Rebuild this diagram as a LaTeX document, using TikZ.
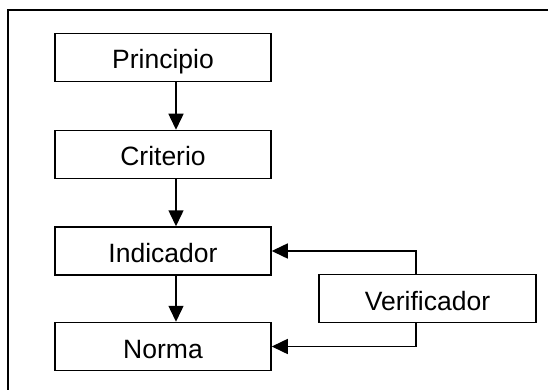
\documentclass[tikz,border=0pt]{standalone}
\usepackage{fontspec}
\setmainfont{Liberation Sans}
\usetikzlibrary{arrows.meta}
\begin{document}
\begin{tikzpicture}[x=1pt,y=-1pt,
  box/.style={draw=black,line width=1.5pt,minimum width=216pt,minimum height=48pt,inner sep=0pt,
    text height=23pt,text depth=0pt,font=\fontsize{26.5}{30}\selectfont},
  arr/.style={line width=1.5pt,-{Triangle[length=16pt,width=15pt]}}]
\clip (0,0) rectangle (548,390);
\fill[white] (0,0) rectangle (548,390);
\draw[line width=2pt] (7.5,400) |- (560,10);
\node[box] (p) at (163,57.5) {Principio};
\node[box] (c) at (163,154.5) {Criterio};
\node[box] (i) at (163,251) {Indicador};
\node[box] (n) at (163,346.5) {Norma};
\node[box,minimum width=217pt] (v) at (427.5,298.5) {Verificador};
\draw[arr] ([xshift=13pt]p.south) -- ([xshift=13pt]c.north);
\draw[arr] ([xshift=13pt]c.south) -- ([xshift=13pt]i.north);
\draw[arr] ([xshift=13pt]i.south) -- ([xshift=13pt]n.north);
\draw[arr] ([xshift=-11.5pt]v.north) |- (i.east);
\draw[arr] ([xshift=-11.5pt]v.south) |- (n.east);
\end{tikzpicture}
\end{document}
